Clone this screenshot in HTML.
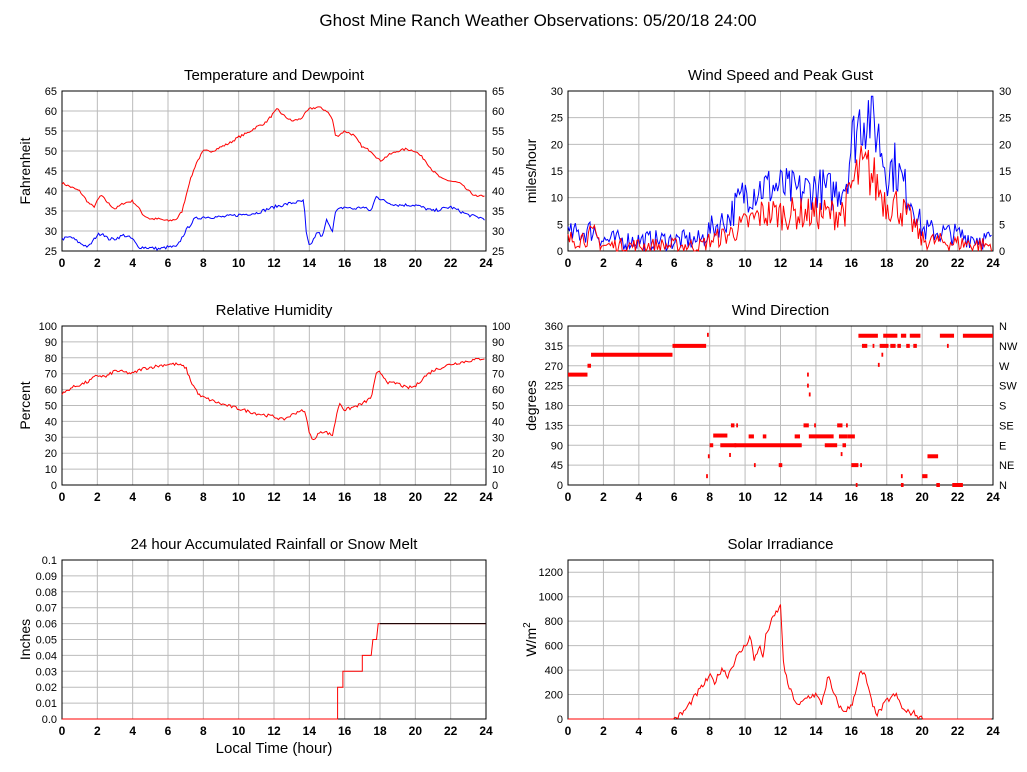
<!DOCTYPE html>
<html><head><meta charset="utf-8">
<style>
body{margin:0;background:#fff;}
svg{display:block;font-family:"Liberation Sans",sans-serif;}
</style></head>
<body>
<svg id="s" width="1027" height="772" viewBox="0 0 1027 772" xmlns="http://www.w3.org/2000/svg">
<rect width="1027" height="772" fill="#fff"/>
<text x="538" y="26" font-size="17" text-anchor="middle">Ghost Mine Ranch Weather Observations: 05/20/18 24:00</text>
</svg>
<script>
const S=document.getElementById('s');const NS='http://www.w3.org/2000/svg';
function el(t,a,txt){const e=document.createElementNS(NS,t);for(const k in a)e.setAttribute(k,a[k]);if(txt!==undefined)e.textContent=txt;S.appendChild(e);return e;}
let seed=7;function rnd(){seed=(seed*16807)%2147483647;return seed/2147483647;}
function panel(o){
 const {x0,x1,y0,y1,ymin,ymax,yticks,title,ylab,right,fmt,xlab}=o;
 const W=x1-x0,H=y1-y0;
 const X=h=>x0+h/24*W, Y=v=>y1-(v-ymin)/(ymax-ymin)*H;
 el('text',{x:(x0+x1)/2,y:y0-11,'font-size':15,'text-anchor':'middle'},title);
 for(let h=0;h<=24;h+=2){el('line',{x1:X(h),x2:X(h),y1:y0,y2:y1,stroke:'#bbb','stroke-width':1});
  el('text',{x:X(h),y:y1+16,'font-size':12,'text-anchor':'middle','font-weight':'bold'},h);}
 yticks.forEach(v=>{el('line',{x1:x0,x2:x1,y1:Y(v),y2:Y(v),stroke:'#bbb','stroke-width':1});
  el('text',{x:x0-5,y:Y(v)+4,'font-size':11,'text-anchor':'end'},fmt?fmt(v):v);
  if(right)el('text',{x:x1+6,y:Y(v)+4,'font-size':11},right===true?v:right(v));});
 el('rect',{x:x0,y:y0,width:W,height:H,fill:'none',stroke:'#000','stroke-width':1});
 if(ylab){const t=el('text',{x:0,y:0,'font-size':14,'text-anchor':'middle',transform:`translate(${x0-32},${(y0+y1)/2}) rotate(-90)`});t.innerHTML=ylab;}
 if(xlab)el('text',{x:(x0+x1)/2,y:y1+34,'font-size':15,'text-anchor':'middle'},xlab);
 return {X,Y};
}
function line(p,pts,col){el('polyline',{points:pts.map(q=>p.X(q[0]).toFixed(1)+','+p.Y(q[1]).toFixed(1)).join(' '),fill:'none',stroke:col,'stroke-width':1});}
function interp(k,h){for(let i=1;i<k.length;i++)if(h<=k[i][0]){const a=k[i-1],b=k[i];return a[1]+(b[1]-a[1])*(h-a[0])/(b[0]-a[0]);}return k[k.length-1][1];}
function noisy(k,n,amp,lo){const r=[];for(let h=0;h<=24;h+=24/n){let v=interp(k,h)+(rnd()-0.5)*2*amp;if(lo!==undefined)v=Math.max(lo,v);r.push([h,v]);}return r;}
function noisyW(k,n,a0,af){const r=[];for(let h=0;h<=24;h+=24/n){const b=interp(k,h);let v=b+(rnd()-0.5)*2*(a0+af*b);v=Math.min(29,Math.max(0,v));r.push([h,v]);}return r;}
const t5=[];for(let v=25;v<=65;v+=5)t5.push(v);
let p=panel({x0:62,x1:486,y0:91,y1:251,ymin:25,ymax:65,yticks:t5,title:'Temperature and Dewpoint',ylab:'Fahrenheit',right:true});
const T=[[0,42],[0.5,41],[1,40],[1.5,37],[1.8,36],[2.2,39],[2.6,37],[3,35.5],[3.5,37],[4,37.5],[4.3,36],[4.6,34],[5,33],[5.5,33],[6,32.5],[6.5,33],[6.8,35],[7.2,42],[7.6,47],[8,50],[8.5,50],[9,51],[9.5,52],[10,53.5],[10.5,54.5],[11,56],[11.5,57],[12,59.5],[12.2,60.5],[12.5,59],[13,57.5],[13.5,58],[14,60.5],[14.5,61],[15,60],[15.3,58],[15.5,53.5],[16,55],[16.5,54],[17,51],[17.5,50],[18,47.5],[18.5,49],[19,50],[19.5,50.5],[20,50],[20.5,48],[21,45],[21.5,43],[22,42.5],[22.5,42],[23,40],[23.5,38.5],[24,39]];
const D=[[0,28],[0.5,28.5],[1,27],[1.5,26],[2,29],[2.3,29.5],[2.6,28],[3,28],[3.5,29],[4,28],[4.3,26],[5,25.8],[5.5,25.5],[6,26],[6.5,26],[7,30],[7.5,33],[8,33.5],[9,33.5],[10,34],[11,34.5],[12,36],[13,37],[13.7,37.5],[13.8,30],[14,26],[14.5,30],[14.7,28],[15,33],[15.3,30],[15.5,35],[16,36],[16.5,35.5],[17,36],[17.5,35],[17.8,39],[18,38],[18.5,37],[19,36.5],[20,36.5],[21,35],[22,36],[23,34],[24,33]];
line(p,noisy(T,290,0.3),'red');line(p,noisy(D,290,0.4),'blue');
p=panel({x0:568,x1:993,y0:91,y1:251,ymin:0,ymax:30,yticks:[0,5,10,15,20,25,30],title:'Wind Speed and Peak Gust',ylab:'miles/hour',right:true});
const G=[[0,3],[1.5,4],[2,2],[7.5,2],[8,4],[9,6],[10,11],[11,12],[12,12],[13,11],[14,12],[15,11],[15.7,13],[16,20],[16.5,25],[17,26],[17.5,22],[18,15],[18.5,16],[19,12],[19.5,9],[20,4],[24,2]];
const Sp=[[0,2],[1.5,3],[2,1],[7.5,1],[8,2],[9,3],[10,5],[11,7],[12,7],[13,7],[14,7],[15,7],[15.7,8],[16,12],[16.5,15],[17,15],[17.5,12],[18,9],[18.5,9],[19,7],[19.5,5],[20,2],[24,1]];
line(p,noisyW(G,290,1.5,0.22),'blue');line(p,noisyW(Sp,290,1.2,0.28),'red');
const t10=[];for(let v=0;v<=100;v+=10)t10.push(v);
p=panel({x0:62,x1:486,y0:326,y1:485,ymin:0,ymax:100,yticks:t10,title:'Relative Humidity',ylab:'Percent',right:true});
const R=[[0,57],[0.5,61],[1,63],[1.5,65],[2,69],[2.5,68],[3,72],[3.5,71],[4,70],[4.5,73],[5,74],[5.5,75],[6,76],[6.5,76],[7,74],[7.3,65],[7.8,56],[8.5,53],[9,51],[10,48],[11,45],[12,43],[12.5,41],[13,44],[13.5,47],[13.8,45],[14,32],[14.3,28],[14.6,34],[15,33],[15.3,31],[15.7,52],[16,47],[16.5,49],[17,51],[17.5,55],[17.8,70],[18,71],[18.5,64],[19,64],[19.5,61],[20,62],[20.5,68],[21,72],[22,76],[23,78],[24,80]];
line(p,noisy(R,290,1),'red');
const dn={0:'N',45:'NE',90:'E',135:'SE',180:'S',225:'SW',270:'W',315:'NW',360:'N'};
p=panel({x0:568,x1:993,y0:326,y1:485,ymin:0,ymax:360,yticks:[0,45,90,135,180,225,270,315,360],title:'Wind Direction',ylab:'degrees',right:v=>dn[v]});
function seg(a,b,v){el('line',{x1:p.X(a),x2:p.X(b),y1:p.Y(v),y2:p.Y(v),stroke:'red','stroke-width':4});}
[[0,1.1,250],[1.1,1.3,270],[1.3,5.9,295],[5.9,7.8,315],[7.85,7.95,340],[7.8,7.9,20],[7.9,8.0,65],[8.0,8.2,90],[8.2,9,112],[8.6,9.5,90],[9.1,9.2,68],[9.2,9.4,135],[9.5,9.6,135],[9.4,12,90],[10.2,10.5,110],[11,11.2,110],[10.5,10.6,45],[11.9,12.1,45],[12,13.2,90],[12.8,13.1,110],[13.3,13.6,135],[13.5,13.6,250],[13.5,13.6,225],[13.6,13.7,205],[13.6,15,110],[13.9,14,135],[14.5,15.2,90],[15.2,15.5,135],[15.3,15.8,110],[15.5,15.7,90],[15.4,15.5,70],[15.7,15.8,135],[15.8,16.2,110],[16,16.4,45],[16.25,16.35,0],[16.5,16.6,45],[16.4,17.5,338],[16.6,16.9,315],[17.2,17.3,315],[17.5,17.6,272],[17.7,17.8,295],[17.6,18.1,315],[17.8,18.6,338],[18.2,18.5,315],[18.6,18.8,315],[18.8,19.1,338],[18.8,18.9,20],[18.8,18.95,0],[19.3,19.9,338],[19.1,19.3,315],[19.5,19.7,315],[20,20.3,20],[20.3,20.9,65],[20.8,21,0],[21,21.8,338],[21.4,21.5,315],[21.7,22.3,0],[22.3,24,338]].forEach(a=>seg(...a));
const t01=[];for(let i=0;i<=10;i++)t01.push(i/100);
p=panel({x0:62,x1:486,y0:560,y1:719,ymin:0,ymax:0.1,yticks:t01,title:'24 hour Accumulated Rainfall or Snow Melt',ylab:'Inches',fmt:v=>v===0?'0.0':v.toFixed(2).replace(/0$/,'')==='0.1'?'0.1':v.toFixed(2),xlab:'Local Time (hour)'});
line(p,[[0,0],[15.6,0],[15.6,0.02],[15.9,0.02],[15.9,0.03],[17,0.03],[17,0.04],[17.5,0.04],[17.6,0.05],[17.8,0.05],[17.9,0.06],[24,0.06]],'red');
line(p,[[18,0.06],[24,0.06]],'#000');
p=panel({x0:568,x1:993,y0:560,y1:719,ymin:0,ymax:1300,yticks:[0,200,400,600,800,1000,1200],title:'Solar Irradiance',ylab:'W/m<tspan font-size="10" dy="-6">2</tspan>'});
const So=[[0,0],[6,0],[6.5,50],[7,150],[7.5,250],[8,350],[8.3,300],[8.7,420],[9,350],[9.5,500],[10,600],[10.3,680],[10.5,480],[10.8,600],[11,500],[11.2,700],[11.5,800],[11.8,880],[12,920],[12.2,400],[12.5,250],[13,100],[13.5,180],[14,200],[14.3,120],[14.7,350],[15,200],[15.5,60],[16,100],[16.5,380],[16.8,350],[17.2,100],[17.5,40],[18,150],[18.5,200],[19,60],[19.5,50],[20,0],[24,0]];
const sn=noisy(So,290,25,0).map(q=>[q[0],q[0]<6||q[0]>20?0:q[1]]);line(p,sn,'red');
</script>
</body></html>
